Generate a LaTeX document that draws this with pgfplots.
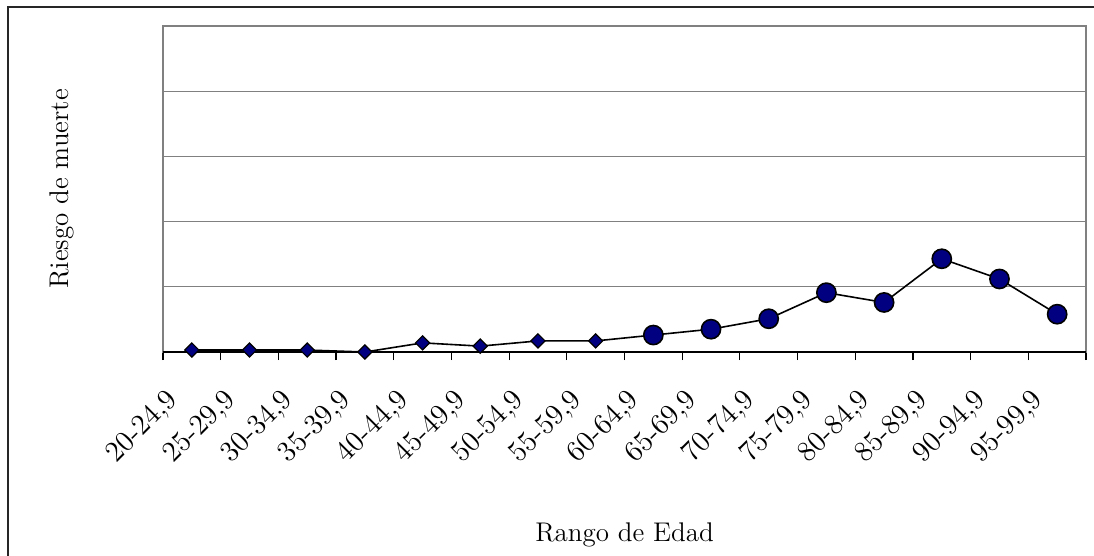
\documentclass[border=0pt]{standalone}
\usepackage{pgfplots}
\pgfplotsset{compat=1.18}
\definecolor{navy}{RGB}{0,0,128}
\begin{document}
\begin{tikzpicture}
\useasboundingbox (0,0) rectangle (547pt,-278pt);
\draw[line width=0.8pt, black!85] (548pt,-3.5pt) -- (4pt,-3.5pt) -- (4pt,-279pt);
\begin{axis}[
 at={(81.5pt,-176pt)}, anchor=south west,
 scale only axis, width=461.5pt, height=163pt,
 xmin=0.5, xmax=16.5, ymin=0, ymax=5,
 clip=false,
 xtick={1,...,16},
 xticklabels={20-24{,}9,25-29{,}9,30-34{,}9,35-39{,}9,40-44{,}9,45-49{,}9,50-54{,}9,55-59{,}9,60-64{,}9,65-69{,}9,70-74{,}9,75-79{,}9,80-84{,}9,85-89{,}9,90-94{,}9,95-99{,}9},
 minor xtick={0.5,1.5,...,16.5},
 major tick length=0pt, minor tick length=4pt,
 tick align=outside, xtick pos=bottom, ytick pos=left,
 ytick={0,1,2,3,4,5}, yticklabels={}, ymajorgrids,
 ytick style={draw=none},
 grid style={gray, line width=0.5pt},
 axis line style={gray, line width=0.7pt},
 minor tick style={black, line width=0.6pt},
 xticklabel style={xshift=-9pt, yshift=-22pt, rotate=45, anchor=east, inner sep=0pt, font=\fontsize{14.5}{16}\selectfont},
 xlabel={Rango de Edad},
 ylabel={Riesgo de muerte},
 xlabel style={at={(axis description cs:0.5,-0.5613)}, anchor=center, font=\fontsize{13.5}{15}\selectfont},
 ylabel style={at={(axis description cs:-0.1094,0.5)}, anchor=center, font=\fontsize{13.5}{15}\selectfont},
]
\draw[black, line width=0.8pt] (rel axis cs:0,0) -- (rel axis cs:1,0);
\addplot[black, line width=0.8pt, mark=none] coordinates {
(1,0.03) (2,0.03) (3,0.03) (4,0.0) (5,0.14) (6,0.09) (7,0.17) (8,0.17)
(9,0.26) (10,0.35) (11,0.51) (12,0.91) (13,0.76) (14,1.43) (15,1.12) (16,0.58)};
\addplot[only marks, mark=square*, mark size=2.5pt, mark options={rotate=45, fill=navy, draw=black, line width=0.6pt}] coordinates {
(1,0.03) (2,0.03) (3,0.03) (4,0.0) (5,0.14) (6,0.09) (7,0.17) (8,0.17)};
\addplot[only marks, mark=*, mark size=4.8pt, mark options={fill=navy, draw=black, line width=0.8pt}] coordinates {
(9,0.26) (10,0.35) (11,0.51) (12,0.91) (13,0.76) (14,1.43) (15,1.12) (16,0.58)};
\end{axis}
\end{tikzpicture}
\end{document}
